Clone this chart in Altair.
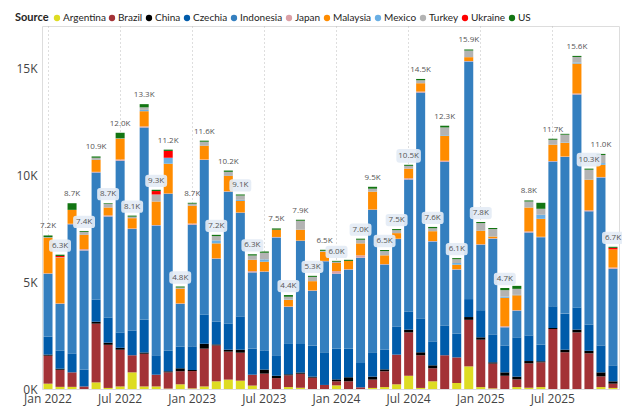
import altair as alt
import pandas as pd

# Monthly volumes by source, in thousands (Jan 2022 .. Dec 2025)
years = [2022, 2023, 2024, 2025]
month_names = ["Jan", "Feb", "Mar", "Apr", "May", "Jun",
               "Jul", "Aug", "Sep", "Oct", "Nov", "Dec"]
months = [f"{m} {y}" for y in years for m in month_names]

sources = ["Argentina", "Brazil", "China", "Czechia", "Indonesia", "Japan",
           "Malaysia", "Mexico", "Turkey", "Ukraine", "US"]
palette = ["#DEDC22", "#A33236", "#000000", "#005BAA", "#347FBF", "#DBA0A6",
           "#FF8C00", "#6AAFE4", "#B3B3B3", "#FF0000", "#127512"]

argentina = [0.25, 0.10, 0.10, 0.00, 0.31, 0.05, 0.12, 0.78, 0.12, 0.12, 0.02, 0.22,
             0.03, 0.12, 0.36, 0.44, 0.39, 0.16, 0.00, 0.00, 0.09, 0.06, 0.00, 0.00,
             0.17, 0.00, 0.00, 0.05, 0.09, 0.22, 0.62, 0.05, 0.36, 0.00, 0.28, 1.06,
             0.09, 0.03, 0.00, 0.09, 0.06, 0.09, 0.00, 0.00, 0.00, 0.00, 0.09, 0.05]
brazil = [1.31, 0.80, 0.68, 0.12, 2.75, 2.02, 1.72, 0.80, 1.53, 0.55, 0.76, 0.61,
          0.81, 1.77, 1.68, 1.31, 1.31, 0.51, 0.72, 0.51, 0.55, 0.66, 0.53, 0.19,
          0.19, 0.36, 0.08, 0.39, 0.74, 1.39, 2.03, 1.53, 0.61, 1.58, 1.20, 2.18,
          2.22, 1.16, 0.62, 0.36, 1.14, 1.16, 2.81, 1.72, 2.65, 1.67, 0.50, 0.20]
china = [0.05, 0.05, 0.00, 0.00, 0.09, 0.10, 0.09, 0.00, 0.06, 0.00, 0.05, 0.14,
         0.05, 0.23, 0.05, 0.09, 0.14, 0.00, 0.19, 0.11, 0.05, 0.05, 0.05, 0.00,
         0.09, 0.19, 0.00, 0.14, 0.09, 0.00, 0.13, 0.14, 0.14, 0.00, 0.00, 0.13,
         0.11, 0.06, 0.16, 0.13, 0.11, 0.05, 0.05, 0.12, 0.13, 0.12, 0.19, 0.11]
czechia = [0.84, 0.84, 0.89, 0.78, 1.03, 1.17, 0.71, 1.15, 1.53, 0.91, 0.96, 1.01,
           1.11, 1.36, 1.06, 1.23, 1.56, 1.22, 0.90, 0.96, 1.42, 1.34, 1.45, 1.53,
           1.44, 1.34, 1.14, 1.14, 0.92, 1.32, 0.85, 1.59, 1.12, 1.40, 1.11, 0.84,
           1.27, 1.31, 1.26, 1.84, 1.20, 0.77, 1.01, 1.69, 1.03, 1.22, 1.26, 0.75]
indonesia = [2.95, 2.20, 6.04, 5.59, 5.96, 4.74, 8.05, 4.76, 9.01, 6.08, 7.35, 2.01,
             5.69, 7.25, 2.95, 6.17, 4.85, 3.57, 3.68, 5.52, 1.73, 4.83, 2.57, 4.26,
             3.51, 3.70, 4.93, 6.67, 3.99, 4.09, 6.18, 10.57, 4.68, 7.66, 3.00, 11.13,
             3.07, 4.48, 0.85, 1.25, 4.82, 5.04, 6.79, 7.34, 9.98, 5.31, 7.87, 4.52]
japan = [0.02, 0.02, 0.03, 0.06, 0.03, 0.05, 0.06, 0.03, 0.05, 0.02, 0.02, 0.02,
         0.06, 0.02, 0.02, 0.02, 0.02, 0.06, 0.02, 0.02, 0.03, 0.02, 0.02, 0.02,
         0.12, 0.02, 0.11, 0.02, 0.02, 0.02, 0.06, 0.05, 0.02, 0.05, 0.02, 0.02,
         0.02, 0.02, 0.05, 0.02, 0.05, 0.02, 0.02, 0.02, 0.05, 0.05, 0.02, 0.06]
malaysia = [1.66, 2.14, 0.65, 0.67, 0.56, 0.37, 0.97, 0.48, 0.71, 1.10, 1.39, 0.68,
            0.83, 0.64, 0.70, 0.72, 0.54, 0.53, 0.45, 0.34, 0.31, 0.50, 0.43, 0.43,
            0.38, 0.39, 0.56, 0.83, 0.41, 0.26, 0.45, 0.39, 0.46, 1.17, 0.21, 0.18,
            0.63, 0.08, 1.33, 0.70, 1.12, 0.84, 0.76, 0.64, 1.40, 1.43, 0.57, 0.85]
mexico = [0.00, 0.00, 0.00, 0.00, 0.00, 0.00, 0.00, 0.00, 0.06, 0.00, 0.28, 0.00,
          0.00, 0.00, 0.14, 0.00, 0.05, 0.00, 0.11, 0.00, 0.02, 0.00, 0.00, 0.02,
          0.00, 0.00, 0.00, 0.00, 0.00, 0.00, 0.00, 0.00, 0.00, 0.03, 0.08, 0.00,
          0.00, 0.00, 0.06, 0.02, 0.00, 0.19, 0.00, 0.02, 0.05, 0.00, 0.08, 0.00]
turkey = [0.03, 0.02, 0.00, 0.14, 0.10, 0.17, 0.02, 0.07, 0.12, 0.33, 0.00, 0.06,
          0.10, 0.19, 0.20, 0.19, 0.20, 0.20, 0.31, 0.00, 0.12, 0.42, 0.20, 0.02,
          0.06, 0.00, 0.17, 0.14, 0.20, 0.14, 0.13, 0.14, 0.14, 0.36, 0.18, 0.31,
          0.36, 0.35, 0.30, 0.28, 0.28, 0.28, 0.23, 0.36, 0.26, 0.47, 0.38, 0.00]
ukraine = [0.00, 0.06, 0.00, 0.00, 0.00, 0.00, 0.00, 0.00, 0.00, 0.16, 0.32, 0.00,
           0.00, 0.00, 0.00, 0.00, 0.00, 0.00, 0.00, 0.00, 0.00, 0.00, 0.00, 0.00,
           0.00, 0.00, 0.00, 0.00, 0.00, 0.00, 0.00, 0.00, 0.00, 0.00, 0.00, 0.00,
           0.00, 0.00, 0.00, 0.00, 0.00, 0.00, 0.00, 0.00, 0.00, 0.00, 0.00, 0.07]
us = [0.08, 0.06, 0.31, 0.04, 0.06, 0.03, 0.26, 0.05, 0.15, 0.06, 0.06, 0.05,
      0.04, 0.05, 0.06, 0.06, 0.05, 0.06, 0.06, 0.06, 0.08, 0.05, 0.05, 0.05,
      0.04, 0.05, 0.05, 0.09, 0.05, 0.05, 0.05, 0.06, 0.06, 0.08, 0.05, 0.05,
      0.05, 0.05, 0.10, 0.14, 0.05, 0.28, 0.05, 0.04, 0.05, 0.05, 0.05, 0.05]

# Months whose total label is suppressed, and those drawn on a backing chip
hidden_labels = ["Jul 2023", "Feb 2024", "Feb 2025", "Apr 2025", "Jun 2025", "Aug 2025"]
chip_labels = ["Feb 2022", "Apr 2022", "Jun 2022", "Aug 2022", "Oct 2022", "Dec 2022",
               "Mar 2023", "May 2023", "Jun 2023", "Sep 2023", "Nov 2023", "Jan 2024",
               "Mar 2024", "May 2024", "Jun 2024", "Jul 2024", "Sep 2024", "Nov 2024",
               "Jan 2025", "Mar 2025", "Oct 2025", "Dec 2025"]

series = [argentina, brazil, china, czechia, indonesia, japan,
          malaysia, mexico, turkey, ukraine, us]

rows = []
for si, (src, vals) in enumerate(zip(sources, series)):
    for month, v in zip(months, vals):
        rows.append({"month": month, "source": src, "order": si, "value": v})
df = pd.DataFrame(rows)

tot = df.groupby("month", sort=False)["value"].sum().reset_index()
tot["label"] = tot["value"].map(lambda v: f"{v:.1f}K")
tot = tot[~tot["month"].isin(hidden_labels)]
chips = tot[tot["month"].isin(chip_labels)].copy()
chips["chip"] = chips["label"].str.len().map(lambda n: 480 if n <= 4 else 600)

axis_months = [f"{m} {y}" for y in years for m in ("Jan", "Jul")]
FONT = "Open Sans"
LEGEND_FONT = "Lato"

x_enc = alt.X(
    "month:N", sort=months, title=None,
    scale=alt.Scale(paddingInner=0.25, paddingOuter=0.125),
    axis=alt.Axis(values=axis_months, labelAngle=0, grid=True, gridDash=[1, 3],
                  gridColor="#BDBDBD", gridWidth=1, bandPosition=0.5,
                  ticks=False, domain=False, labelFontSize=12, labelColor="#444444",
                  labelPadding=4, labelFont=FONT),
)
y_scale = alt.Scale(domain=[0, 17], nice=False)

bars = alt.Chart(df).mark_bar().encode(
    x=x_enc,
    y=alt.Y("sum(value):Q", scale=y_scale, title=None, stack="zero",
            axis=alt.Axis(values=[0, 5, 10, 15], labelExpr="datum.value + 'K'",
                          grid=False, domain=False, ticks=False, labelFontSize=12,
                          labelColor="#444444", labelPadding=5, labelFont=FONT)),
    color=alt.Color(
        "source:N", scale=alt.Scale(domain=sources, range=palette),
        legend=alt.Legend(
            title="Source", orient="none", direction="horizontal",
            legendX=-27, legendY=-13, titleOrient="left", titleFontWeight="bold",
            titleFontSize=11, titleColor="#252423", titleFont=LEGEND_FONT, titlePadding=3,
            labelFontSize=10, labelColor="#252423", labelFont=LEGEND_FONT,
            symbolType="circle", symbolSize=40, symbolStrokeWidth=0,
            labelOffset=1, columnPadding=1,
        ),
    ),
    order=alt.Order("order:Q", sort="ascending"),
)

chip_path = ("M-0.74,-0.56 L0.74,-0.56 Q1,-0.56 1,-0.3 L1,0.3 Q1,0.56 0.74,0.56 "
             "L-0.74,0.56 Q-1,0.56 -1,0.3 L-1,-0.3 Q-1,-0.56 -0.74,-0.56 Z")

chip_marks = alt.Chart(chips).mark_point(
    shape=chip_path, filled=True, color="#E4ECF5", opacity=0.92, strokeWidth=0,
    yOffset=-9,
).encode(
    x=alt.X("month:N", sort=months),
    y=alt.Y("value:Q", scale=y_scale),
    size=alt.Size("chip:Q", scale=None, legend=None),
)

labels = alt.Chart(tot).mark_text(
    dy=-9, baseline="middle", align="center", fontSize=8, color="#555555", font=FONT,
).encode(
    x=alt.X("month:N", sort=months),
    y=alt.Y("value:Q", scale=y_scale),
    text="label:N",
)

chart = alt.layer(bars, chip_marks, labels).properties(
    width=577, height=363,
    autosize=alt.AutoSizeParams(type="none"),
    padding={"left": 42, "top": 26, "right": 3, "bottom": 18},
).configure_view(stroke=None).configure(background="white")

chart.save("out.html", embed_options={"renderer": "svg", "actions": False})
